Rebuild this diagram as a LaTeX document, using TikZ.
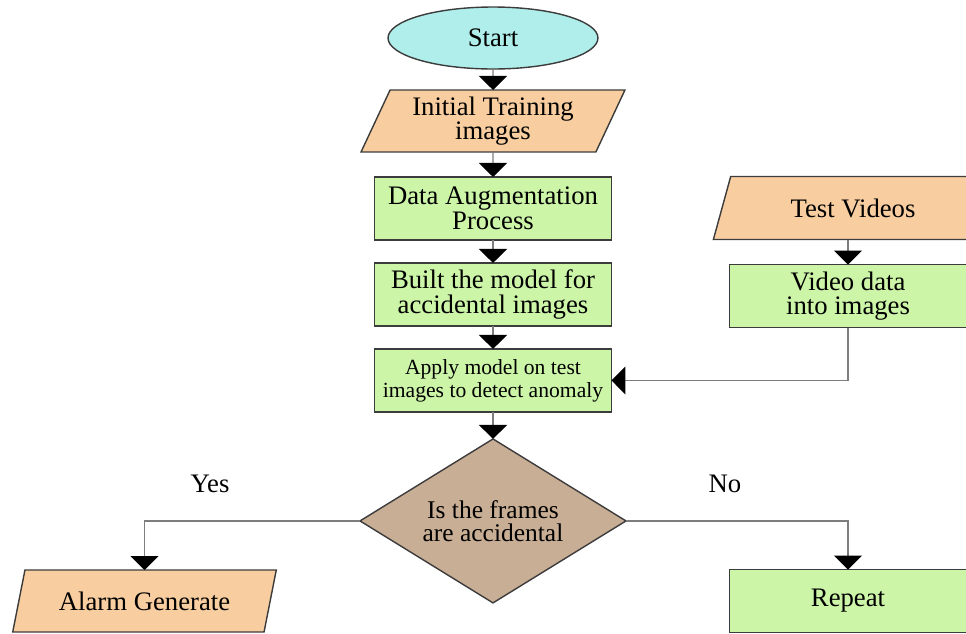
\documentclass[tikz,border=0pt]{standalone}
\usepackage{fontspec}
\setmainfont{Liberation Serif}
\usetikzlibrary{shapes.geometric,arrows.meta,positioning}
\definecolor{termcol}{RGB}{175,238,234}
\definecolor{iocol}{RGB}{248,206,160}
\definecolor{proccol}{RGB}{204,245,168}
\definecolor{deccol}{RGB}{200,174,148}
\definecolor{edgecol}{RGB}{60,60,60}
\definecolor{linecol}{RGB}{125,125,125}
\newcommand{\flowfont}{\fontsize{15.2}{14}\selectfont\lineskiplimit=-\maxdimen}
\newcommand{\smallflowfont}{\fontsize{12.3}{13.2}\selectfont\lineskiplimit=-\maxdimen}
\newcommand{\decfont}{\fontsize{14.5}{13.4}\selectfont\lineskiplimit=-\maxdimen}
\tikzset{
  term/.style ={draw=edgecol, ellipse, fill=termcol, line width=0.8pt,
                minimum width=4.2cm, minimum height=1.24cm, inner sep=0pt,
                outer sep=0pt, font=\flowfont},
  io/.style   ={draw=edgecol, trapezium, trapezium left angle=65,
                trapezium right angle=115, trapezium stretches=true,
                fill=iocol, line width=0.8pt, minimum width=5.28cm,
                minimum height=1.24cm, inner sep=0pt, outer sep=0pt,
                align=center, font=\flowfont},
  proc/.style ={draw=edgecol, rectangle, fill=proccol, line width=0.8pt,
                minimum width=4.74cm, minimum height=1.26cm, inner sep=0pt,
                outer sep=0pt, align=center, font=\flowfont},
  dec/.style  ={draw=edgecol, diamond, aspect=1.62, fill=deccol,
                line width=0.8pt, minimum width=5.32cm, minimum height=3.28cm,
                inner sep=0pt, outer sep=0pt, align=center, font=\decfont},
  flow/.style ={-{Triangle[length=2.8mm, width=5.6mm, color=black]},
                draw=linecol, line width=0.7pt},
  lbl/.style  ={font=\flowfont, inner sep=0pt},
}
\begin{document}
\begin{tikzpicture}[x=0.02cm, y=-0.02cm]
\useasboundingbox (0,0) rectangle (966,633);

% ---- training column ---------------------------------------------------
\node[term] (start) at (493,38) {Start};
\node[io, below=4.2mm of start] (init) {Initial Training\\images};
\node[proc, below=5mm of init] (aug) {Data Augmentation\\Process};
\node[proc, below=4.6mm of aug] (model) {Built the model for\\accidental images};
\node[proc, below=4.6mm of model, font=\smallflowfont] (apply)
     {Apply model on test\\images to detect anomaly};
\node[dec, below=5.4mm of apply] (chk) {Is the frames\\are accidental};

\draw[flow] (start) -- (init);
\draw[flow] (init) -- (aug);
\draw[flow] (aug) -- (model);
\draw[flow] (model) -- (apply);
\draw[flow] (apply) -- (chk);

% ---- test input ----------------------------------------------------------
\node[io, minimum width=5.6cm, minimum height=1.26cm] (tv) at (853,208) {Test Videos};
\node[proc] (vid) at (848,296) {Video data\\into images};

\draw[flow] (tv.south-|vid.north) -- (vid.north);
\draw[flow] (vid.south) |- (apply.east);

% ---- outcomes ------------------------------------------------------------
\node[io] (alarm) at (144.5,601) {Alarm Generate};
\node[proc] (rep) at (848,601) {Repeat};

\draw[flow] (chk.west) -| (alarm.north);
\draw[flow] (chk.east) -| (rep.north);

\node[lbl] (yes) at (210,484) {Yes};
\node[lbl] (no) at (725,484) {No};

\end{tikzpicture}
\end{document}
